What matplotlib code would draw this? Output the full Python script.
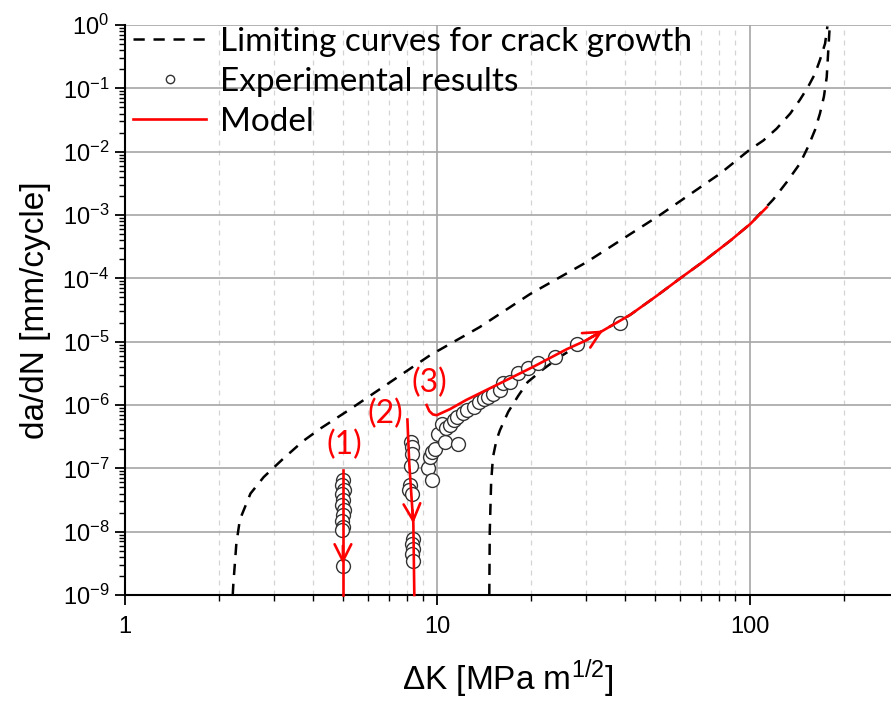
import matplotlib
matplotlib.use("Agg")
import matplotlib.pyplot as plt
from matplotlib.lines import Line2D
from matplotlib.ticker import FixedLocator, NullFormatter

#--------------------------------------#
#values#

# limiting curves for crack growth (dashed)
upper_dk = [2.22, 2.23, 2.28, 2.34, 2.53, 2.79, 3.21, 3.73, 4.25, 5.2, 9.5, 13.7, 19.8, 30.1, 51.7, 80.5,
            100, 110.7, 122, 135, 145, 154, 162, 168, 174.5, 177.5]
upper_dadn = [1e-9, 1.5e-9, 6.5e-9, 1.55e-8, 4e-8, 7.3e-8, 1.4e-7, 2.7e-7, 4.3e-7, 8.2e-7, 6.1e-6, 1.7e-5, 5.6e-5, 1.8e-4, 1e-3, 4.5e-3,
              1.07e-2, 1.5e-2, 2.3e-2, 4e-2, 6.6e-2, 0.106, 0.17, 0.28, 0.51, 0.95]

lower_dk = [14.7, 14.75, 14.9, 15.1, 15.5, 15.9, 16.9, 18.2, 19.5, 21.9, 24.8, 30, 34, 41.5, 50.5, 60, 71.2, 86.6, 100.5,
            119, 131.5, 145, 154, 162, 168, 173, 176.6, 178.2, 180, 180.5]
lower_dadn = [1e-9, 1e-8, 6e-8, 1.5e-7, 2.8e-7, 4e-7, 7.8e-7, 1.4e-6, 2.3e-6, 3.7e-6, 5.8e-6, 1.05e-5, 1.5e-5, 2.65e-5, 5.3e-5, 1.0e-4, 1.85e-4, 3.9e-4, 7.2e-4,
              1.75e-3, 3.3e-3, 6.5e-3, 1.2e-2, 2.2e-2, 4e-2, 7.4e-2, 0.15, 0.32, 0.74, 0.92]

# experimental results
exp_dk = [5.02, 4.98, 5.03, 4.97, 5.02, 4.98, 5.03, 5.0, 4.97, 5.02, 4.98, 5.0,
          8.25, 8.3, 8.3, 8.28, 8.22, 8.15, 8.3, 8.35, 8.33, 8.35, 8.32, 8.35,
          9.34, 9.66, 9.5, 9.62, 9.86, 10.1, 10.35, 10.6, 10.7, 11.0, 11.3, 11.7,
          11.6, 12.1, 12.5, 13.1, 13.6, 14.1, 14.6, 15.1, 15.9, 16.3, 17.1, 18.2,
          19.6, 21.1, 23.9, 28.0, 38.5]
exp_dadn = [6.5e-8, 5.4e-8, 4.5e-8, 4.0e-8, 3.2e-8, 2.6e-8, 2.2e-8, 1.8e-8, 1.5e-8, 1.2e-8, 1.05e-8, 2.9e-9,
            2.6e-7, 2.2e-7, 1.7e-7, 1.1e-7, 5.4e-8, 4.5e-8, 4.0e-8, 7.8e-9, 6.5e-9, 5.4e-9, 4.5e-9, 3.5e-9,
            1.0e-7, 6.5e-8, 1.5e-7, 1.8e-7, 2.0e-7, 3.5e-7, 5.1e-7, 2.6e-7, 4.3e-7, 4.8e-7, 5.8e-7, 2.4e-7,
            6.5e-7, 7.4e-7, 8.3e-7, 9.3e-7, 1.12e-6, 1.26e-6, 1.35e-6, 1.5e-6, 1.7e-6, 2.2e-6, 2.3e-6, 3.2e-6,
            3.8e-6, 4.6e-6, 5.8e-6, 9.3e-6, 2.0e-5]

# model paths (1), (2), (3)
model1_dk = [5.0, 5.0]
model1_dadn = [9.3e-8, 1e-9]
model2_dk = [8.04, 8.15, 8.34, 8.40, 8.46]
model2_dadn = [5.9e-7, 1.2e-7, 2.2e-8, 1.35e-8, 1e-9]
model3_dk = [9.26, 9.45, 9.7, 9.98, 11.0, 12.4, 15.9, 20.3, 26, 30, 34, 41.5, 50.5, 60, 71.2, 86.6, 100.5, 113.5]
model3_dadn = [1e-6, 8.0e-7, 7.1e-7, 6.9e-7, 8.6e-7, 1.2e-6, 2.2e-6, 4.0e-6, 7.6e-6, 1.05e-5, 1.5e-5, 2.65e-5, 5.3e-5, 1.0e-4, 1.85e-4, 3.9e-4, 7.2e-4, 1.32e-3]

# arrow heads: (tail, tip) on each model path
arrows = [((5.0, 6e-9), (5.0, 3.1e-9)),
          ((8.34, 2.2e-8), (8.40, 1.35e-8)),
          ((30, 1.05e-5), (34, 1.5e-5))]

# path labels
path_labels = ["(1)", "(2)", "(3)"]
path_label_pos = [(5.04, 2.3e-7), (6.82, 7.3e-7), (9.45, 2.23e-6)]

x_ticks = [1, 10, 100]
x_ticklabels = ["1", "10", "100"]
y_ticks = [10.0 ** e for e in range(-9, 1)]
y_ticklabels = [r"$10^{%d}$" % e for e in range(-9, 1)]

#--------------------------------------#
#style#

plt.rcParams["font.family"] = ["Liberation Sans", "DejaVu Sans"]
plt.rcParams["mathtext.fontset"] = "custom"
plt.rcParams["mathtext.rm"] = "Liberation Sans"
plt.rcParams["mathtext.it"] = "Liberation Sans:italic"
plt.rcParams["mathtext.bf"] = "Liberation Sans:bold"
plt.rcParams["mathtext.default"] = "regular"

RED = "#ff0000"
DASH = (0, (4.5, 3.5))


def setup_axes(ax):
    ax.set_xscale("log")
    ax.set_yscale("log")
    ax.set_xlim(1, 283.6)
    ax.set_ylim(1e-9, 1)

    minor_x = [m * 10.0 ** d for d in range(0, 3) for m in range(2, 10) if m * 10.0 ** d < 283]
    minor_y = [m * 10.0 ** d for d in range(-9, 0) for m in range(2, 10)]
    ax.xaxis.set_major_locator(FixedLocator(x_ticks))
    ax.xaxis.set_minor_locator(FixedLocator(minor_x))
    ax.yaxis.set_major_locator(FixedLocator(y_ticks))
    ax.yaxis.set_minor_locator(FixedLocator(minor_y))
    ax.set_xticklabels(x_ticklabels)
    ax.set_yticklabels(y_ticklabels)
    ax.xaxis.set_minor_formatter(NullFormatter())
    ax.yaxis.set_minor_formatter(NullFormatter())

    ax.tick_params(which="major", direction="out", length=7, width=1.3, labelsize=17, colors="black")
    ax.tick_params(which="minor", direction="out", length=4, width=1.0)
    ax.tick_params(axis="x", which="major", pad=8)
    ax.tick_params(axis="y", which="major", pad=4)

    ax.grid(True, which="major", color="#a6a6a6", lw=1.2)
    ax.grid(True, which="minor", axis="x", color="#d4d4d4", lw=0.9, ls=(0, (4, 4)))
    ax.grid(False, which="minor", axis="y")
    ax.set_axisbelow(True)

    for side in ["top", "right"]:
        ax.spines[side].set_visible(False)
    for side in ["left", "bottom"]:
        ax.spines[side].set_linewidth(1.5)

    ax.set_xlabel(r"$\Delta$K [MPa m$^{1/2}$]", fontsize=24, labelpad=14)
    ax.set_ylabel("da/dN [mm/cycle]", fontsize=24, labelpad=8)


def draw(ax):
    ax.plot(upper_dk, upper_dadn, color="black", lw=1.8, ls=DASH, zorder=3)
    ax.plot(lower_dk, lower_dadn, color="black", lw=1.8, ls=DASH, zorder=3)
    ax.plot(exp_dk, exp_dadn, ls="none", marker="o", ms=10, mfc="white", mec="#333333", mew=1.0, zorder=4)

    for dk, dadn in [(model1_dk, model1_dadn), (model2_dk, model2_dadn), (model3_dk, model3_dadn)]:
        ax.plot(dk, dadn, color=RED, lw=1.9, zorder=5, clip_on=False)

    for tail, tip in arrows:
        ax.annotate("", xy=tip, xytext=tail,
                    arrowprops=dict(arrowstyle="->,head_length=0.6,head_width=0.3",
                                    color=RED, lw=1.9, mutation_scale=20,
                                    shrinkA=0, shrinkB=0), zorder=6)

    for label, (x, y) in zip(path_labels, path_label_pos):
        ax.text(x, y, label, color=RED, fontsize=23, family=["Lato", "DejaVu Sans"],
                ha="center", va="center", zorder=6)

    handles = [Line2D([], [], color="black", lw=1.8, ls=DASH),
               Line2D([], [], ls="none", marker="o", ms=6, mfc="white", mec="#333333", mew=1.0),
               Line2D([], [], color=RED, lw=1.9)]
    names = ["Limiting curves for crack growth", "Experimental results", "Model"]
    ax.legend(handles, names, loc="upper left", bbox_to_anchor=(-0.0063, 1.02), frameon=False,
              prop={"family": ["Lato", "DejaVu Sans"], "size": 24},
              handlelength=2.2, handletextpad=0.4, labelspacing=0.3, borderaxespad=0)

#--------------------------------------#
#-------------M-A-I-N------------------#
#--------------------------------------#

def main():
    fig = plt.figure(figsize=(8.91, 7.02), dpi=100)
    ax = fig.add_axes([124.5 / 891, 107 / 702, (891 - 124.5) / 891, 570 / 702])
    setup_axes(ax)
    draw(ax)
    fig.savefig("out.png", dpi=100)


if __name__ == "__main__":
    main()
